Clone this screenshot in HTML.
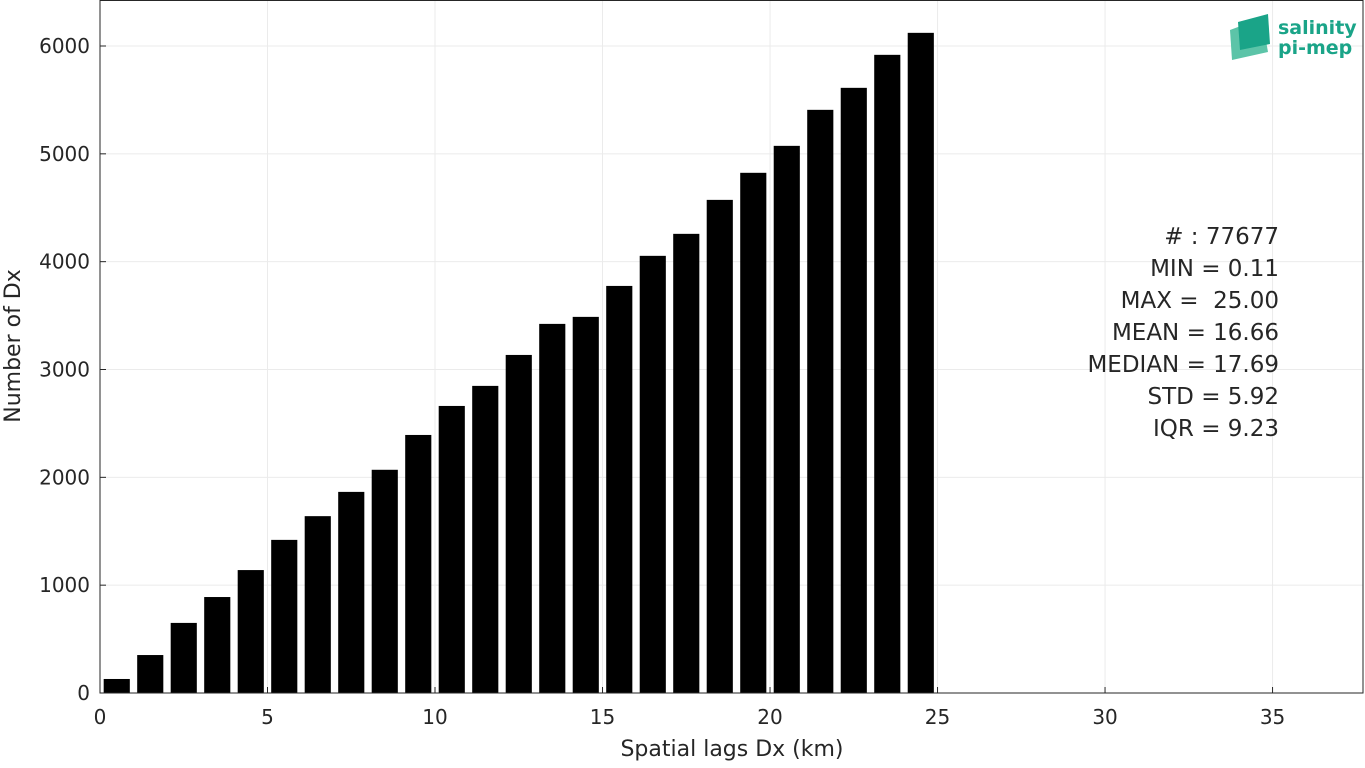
<!DOCTYPE html>
<html><head><meta charset="utf-8"><style>
body{margin:0;background:#fff;font-family:"Liberation Sans","DejaVu Sans",sans-serif}
svg text{font-family:"DejaVu Sans","Liberation Sans",sans-serif;fill:#262626}
</style></head><body>
<svg id="chart" width="1365" height="763" xmlns="http://www.w3.org/2000/svg">
<g id="grid"></g>
<g id="bars"></g>
<rect x="100" y="0.5" width="1263" height="692.5" fill="none" stroke="#262626" stroke-width="1"/>
<g id="ticks"></g>
<text x="732" y="756" font-size="22" text-anchor="middle">Spatial lags Dx (km)</text>
<text transform="translate(20,346) rotate(-90)" font-size="22" text-anchor="middle">Number of Dx</text>
<g font-size="23" text-anchor="end">
<text x="1279" y="244"># : 77677</text>
<text x="1279" y="276">MIN = 0.11</text>
<text x="1279" y="308" xml:space="preserve">MAX =  25.00</text>
<text x="1279" y="340">MEAN = 16.66</text>
<text x="1279" y="372">MEDIAN = 17.69</text>
<text x="1279" y="404">STD = 5.92</text>
<text x="1279" y="436">IQR = 9.23</text>
</g>
<g>
<polygon points="1230,30 1262,18 1268,52 1232,60" fill="#5cc4a8"/>
<polygon points="1238,22 1268,14 1270,44 1240,50" fill="#1aa488"/>
<text x="1278" y="34" font-size="19" font-weight="bold" style="fill:#1aa488">salinity</text>
<text x="1278" y="54" font-size="19" font-weight="bold" style="fill:#1aa488">pi-mep</text>
</g>
</svg>
<script>
const categories=[0.5,1.5,2.5,3.5,4.5,5.5,6.5,7.5,8.5,9.5,10.5,11.5,12.5,13.5,14.5,15.5,16.5,17.5,18.5,19.5,20.5,21.5,22.5,23.5,24.5];
const counts=[130,352,650,890,1140,1420,1640,1865,2070,2393,2662,2848,3135,3423,3488,3775,4054,4258,4573,4824,5074,5408,5612,5918,6122];
const xTicks=[0,5,10,15,20,25,30,35];
const yTicks=[0,1000,2000,3000,4000,5000,6000];
const NS="http://www.w3.org/2000/svg";
const xs=v=>100+v*(1263/37.7);
const ys=v=>693-v*(647/6000);
const bw=0.78;
const grid=document.getElementById('grid'),bars=document.getElementById('bars'),ticks=document.getElementById('ticks');
function mk(t,a,p){const e=document.createElementNS(NS,t);for(const k in a)e.setAttribute(k,a[k]);p.appendChild(e);return e;}
xTicks.forEach(t=>{
 const g=mk('line',{x1:xs(t),x2:xs(t),y1:0,y2:693,stroke:'#ebebeb'},grid);
 
 
 const l=mk('text',{x:xs(t),y:724,'font-size':20,'text-anchor':'middle'},ticks);l.textContent=t;
 
 
 const tk=mk('line',{x1:xs(t),x2:xs(t),y1:693,y2:687,stroke:'#262626'},ticks);
 
 
});
yTicks.forEach(t=>{
 const g=mk('line',{x1:100,x2:1363,y1:ys(t),y2:ys(t),stroke:'#ebebeb'},grid);
 
 
 const l=mk('text',{x:90,y:ys(t)+7,'font-size':20,'text-anchor':'end'},ticks);l.textContent=t;
 
 
 const tk=mk('line',{x1:100,x2:106,y1:ys(t),y2:ys(t),stroke:'#262626'},ticks);
 
 
});
categories.forEach((c,i)=>{
 const r=mk('rect',{x:xs(c-bw/2),y:ys(counts[i]),width:xs(c+bw/2)-xs(c-bw/2),height:ys(0)-ys(counts[i]),fill:'#000'},bars);
 
 
});
</script>
</body></html>
